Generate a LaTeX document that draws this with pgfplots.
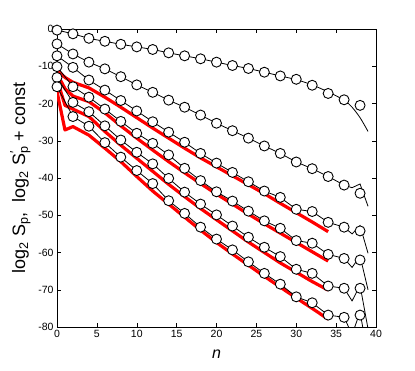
\documentclass[border=0pt]{standalone}
\usepackage{fontspec}
\setmainfont{Liberation Sans}
\usepackage{pgfplots}
\pgfplotsset{compat=1.18}
\begin{document}
\begin{tikzpicture}
\begin{axis}[
  scale only axis, width=319pt, height=298pt,
  xmin=0, xmax=40, ymin=-80, ymax=0,
  xtick={0,5,...,40}, ytick={-80,-70,...,0},
  tick align=inside, major tick length=4pt,
  tick style={black, line width=0.5pt},
  axis line style={line width=0.7pt},
  ticklabel style={font=\fontsize{10.5}{12}\selectfont},
  /pgf/number format/assume math mode=true,
  xlabel={\textit{n}},
  xlabel style={font=\fontsize{16}{18}\selectfont, at={(axis description cs:0.5,-0.09)}, anchor=center},
  ylabel={log\textsubscript{2} S\textsubscript{p},\ \ log\textsubscript{2} S\rlap{\textsuperscript{′}}\textsubscript{p} + const},
  ylabel style={font=\fontsize{18}{20}\selectfont, at={(axis description cs:-0.115,0.5)}, anchor=center},
  clip=true,
]
% red lines
\addplot[red, line width=3.2pt, line join=round] coordinates {
(0,-11) (1,-13) (2,-14.3) (4,-15.8) (6,-18.3) (8,-21) (10,-23.8) (12,-26.6) (14,-29.3) (16,-32) (18,-34.6) (20,-37) (22,-39.4) (24,-41.8) (26,-44.2) (28,-46.8) (30,-49.3) (32,-51.8) (34,-54.4)};
\addplot[red, line width=3.2pt, line join=round] coordinates {
(0,-12) (1,-16) (2,-18) (4,-19.5) (6,-22.5) (8,-26) (10,-29.3) (12,-32.5) (14,-35.6) (16,-38.6) (18,-41.5) (20,-44.3) (22,-47) (24,-49.7) (26,-52.3) (28,-54.8) (30,-57.3) (32,-59.8) (34,-62.3)};
\addplot[red, line width=3.2pt, line join=round] coordinates {
(0,-13.5) (1,-20.5) (2,-21.5) (4,-23.5) (6,-27.5) (8,-31.2) (10,-34.7) (12,-38.2) (14,-41.7) (16,-45) (18,-48.2) (20,-51.2) (22,-54.2) (24,-57.2) (26,-60) (28,-62.8) (30,-65.3) (32,-67.8) (34,-70.1)};
\addplot[red, line width=3.2pt, line join=round] coordinates {
(0,-16.8) (1,-27.1) (2,-26.2) (4,-28.5) (6,-32) (8,-35.6) (10,-39.6) (12,-43.5) (14,-47) (16,-50.5) (18,-54) (20,-57.3) (22,-60.4) (24,-63.4) (26,-66.4) (28,-69.3) (30,-72.2) (32,-75) (34,-77.9)};
% black lines
\addplot[black, line width=0.8pt, smooth] coordinates {
(0,-0.3) (2,-1.3) (4,-2.5) (6,-3.3) (8,-4.1) (10,-4.8) (12,-5.5) (14,-6.4) (16,-7.2) (18,-8.0) (20,-8.9) (22,-9.8) (24,-10.6) (26,-11.6) (28,-12.6) (30,-13.6) (32,-15.0) (34,-16.9) (36,-19.1) (37,-21) (38,-23.8) (39,-27.5)};
\addplot[black, line width=0.8pt] coordinates {
(0,-4.0) (2,-6.7) (4,-8.9) (6,-10.7) (8,-12.8) (10,-15.0) (12,-17.0) (14,-19.1) (16,-21.0) (18,-23.1) (20,-25.3) (22,-27.3) (24,-29.3) (26,-31.4) (28,-33.4) (30,-35.7) (32,-37.5) (34,-39.6) (36,-41.9) (37,-42.6) (38,-41.6) (39,-47.6)};
\addplot[black, line width=0.8pt] coordinates {
(0,-7.2) (2,-10.3) (4,-13.7) (6,-16.4) (8,-19.2) (10,-22.0) (12,-24.9) (14,-27.7) (16,-30.4) (18,-33.4) (20,-36.0) (22,-38.5) (24,-41.0) (26,-43.5) (28,-45.2) (30,-48.4) (32,-49.0) (34,-51.9) (36,-53.2) (37,-55.0) (38,-52.8) (39,-60.2)};
\addplot[black, line width=0.8pt] coordinates {
(0,-10.1) (2,-15.5) (4,-18.3) (6,-21.5) (8,-24.8) (10,-28.0) (12,-30.7) (14,-33.8) (16,-37.4) (18,-40.7) (20,-43.7) (22,-46.2) (24,-48.9) (26,-51.5) (28,-53.5) (30,-56.8) (32,-57.5) (34,-60.5) (36,-61.6) (37,-64.0) (38,-61.0) (39,-70.0)};
\addplot[black, line width=0.8pt] coordinates {
(0,-13.0) (2,-19.7) (4,-22.2) (6,-26.0) (8,-29.8) (10,-33.1) (12,-36.2) (14,-40.1) (16,-43.8) (18,-47.0) (20,-49.9) (22,-52.9) (24,-55.9) (26,-58.6) (28,-61.1) (30,-64.5) (32,-65.6) (34,-69.0) (36,-69.6) (37,-73.0) (38,-68.8) (39,-80.5)};
\addplot[black, line width=0.8pt] coordinates {
(0,-15.5) (2,-23.5) (4,-26.1) (6,-30.5) (8,-34.4) (10,-38.0) (12,-41.5) (14,-46.1) (16,-49.5) (18,-53.2) (20,-56.4) (22,-59.3) (24,-62.5) (26,-65.6) (28,-68.5) (30,-71.9) (32,-73.5) (34,-76.8) (36,-77.4) (37,-82.0) (38,-76.0) (39,-88.0)};
% circles
\pgfplotsset{circ/.style={only marks, mark=*, mark size=5pt, mark options={draw=black, fill=white, line width=0.9pt}}}
\addplot[circ] coordinates {
(0,-0.3) (2,-1.3) (4,-2.5) (6,-3.3) (8,-4.1) (10,-4.8) (12,-5.5) (14,-6.4) (16,-7.2) (18,-8.0) (20,-8.9) (22,-9.8) (24,-10.6) (26,-11.6) (28,-12.6) (30,-13.5) (32,-15.1) (34,-17.3) (36,-19.0) (38,-20.5)};
\addplot[circ] coordinates {
(0,-4.0) (2,-6.7) (4,-8.9) (6,-10.7) (8,-12.8) (10,-15.0) (12,-17.0) (14,-19.1) (16,-21.0) (18,-23.1) (20,-25.3) (22,-27.3) (24,-29.3) (26,-31.4) (28,-33.4) (30,-35.7) (32,-37.5) (34,-39.6) (36,-41.9) (38,-44.1)};
\addplot[circ] coordinates {
(0,-7.2) (2,-10.3) (4,-13.7) (6,-16.4) (8,-19.2) (10,-22.0) (12,-24.9) (14,-27.7) (16,-30.4) (18,-33.4) (20,-36.0) (22,-38.5) (24,-41.0) (26,-43.5) (28,-45.2) (30,-48.4) (32,-49.0) (34,-51.9) (36,-53.2) (38,-54.2)};
\addplot[circ] coordinates {
(0,-10.1) (2,-15.5) (4,-18.3) (6,-21.5) (8,-24.8) (10,-28.0) (12,-30.7) (14,-33.8) (16,-37.4) (18,-40.7) (20,-43.7) (22,-46.2) (24,-48.9) (26,-51.5) (28,-53.5) (30,-56.8) (32,-57.5) (34,-60.5) (36,-61.6) (38,-62.0)};
\addplot[circ] coordinates {
(0,-13.0) (2,-19.7) (4,-22.2) (6,-26.0) (8,-29.8) (10,-33.1) (12,-36.2) (14,-40.1) (16,-43.8) (18,-47.0) (20,-49.9) (22,-52.9) (24,-55.9) (26,-58.6) (28,-61.1) (30,-64.5) (32,-65.6) (34,-69.0) (36,-69.6) (38,-69.6)};
\addplot[circ] coordinates {
(0,-15.5) (2,-23.5) (4,-26.1) (6,-30.5) (8,-34.4) (10,-38.0) (12,-41.5) (14,-46.1) (16,-49.5) (18,-53.2) (20,-56.4) (22,-59.3) (24,-62.5) (26,-65.6) (28,-68.5) (30,-71.9) (32,-73.5) (34,-76.8) (36,-77.4) (38,-76.8)};
\end{axis}
\path ([xshift=-57pt,yshift=-43pt]current axis.south west) rectangle ([xshift=39pt,yshift=29pt]current axis.north east);
\end{tikzpicture}
\end{document}
